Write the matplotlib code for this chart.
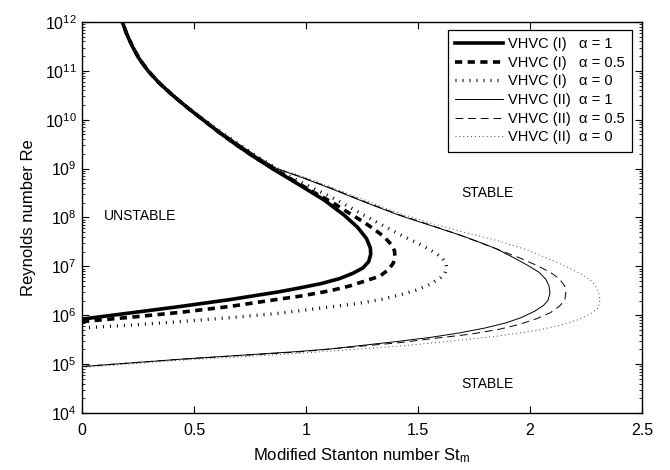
import numpy as np
import matplotlib
matplotlib.use("Agg")
import matplotlib.pyplot as plt
from matplotlib.ticker import LogLocator, NullFormatter, LogFormatterSciNotation

plt.rcParams['font.family'] = ['Liberation Sans', 'DejaVu Sans']
plt.rcParams['mathtext.fontset'] = 'custom'
plt.rcParams['mathtext.rm'] = 'Liberation Sans'
plt.rcParams['mathtext.it'] = 'Liberation Sans:italic'

# --- neutral stability curves: St_m values and matching log10(Re)
# shared upper branch (Re from 1e9 up to 1e12)
st_top = [0.85, 0.765, 0.685, 0.61, 0.54, 0.47, 0.405, 0.345, 0.295, 0.255, 0.225, 0.20, 0.18]
re_top = [9.0, 9.25, 9.5, 9.75, 10.0, 10.25, 10.5, 10.75, 11.0, 11.25, 11.5, 11.75, 12.0]
st_top_thin = [0.87, 0.78, 0.70, 0.62, 0.545, 0.472, 0.406, 0.346, 0.296, 0.255, 0.225, 0.20, 0.18]

# VHVC (I), alpha = 1
st_I_a1 = [0, 0.22, 0.44, 0.66, 0.88, 0.973, 1.07, 1.15, 1.21, 1.255, 1.28, 1.289,
           1.287, 1.27, 1.23, 1.17, 1.08, 0.973] + st_top
re_I_a1 = [5.92, 6.05, 6.18, 6.32, 6.48, 6.56, 6.65, 6.75, 6.86, 6.97, 7.10, 7.25,
           7.38, 7.57, 7.80, 8.05, 8.36, 8.66] + re_top

# VHVC (I), alpha = 0.5
st_I_a05 = [0, 0.22, 0.44, 0.66, 0.88, 0.973, 1.107, 1.196, 1.27, 1.33, 1.37, 1.39, 1.397,
            1.395, 1.38, 1.35, 1.31, 1.26, 1.196, 1.12, 1.04, 0.98, 0.91] + [0.855] + st_top[1:]
re_I_a05 = [5.87, 5.96, 6.06, 6.18, 6.33, 6.39, 6.50, 6.60, 6.71, 6.80, 6.94, 7.07, 7.20,
            7.32, 7.45, 7.60, 7.74, 7.90, 8.08, 8.30, 8.50, 8.66, 8.85] + re_top

# VHVC (I), alpha = 0
st_I_a0 = [0, 0.22, 0.44, 0.66, 0.88, 1.107, 1.23, 1.344, 1.43, 1.49, 1.539, 1.57, 1.60, 1.62,
           1.628, 1.625, 1.61, 1.585, 1.55, 1.50, 1.42, 1.35, 1.27, 1.19, 1.12, 1.04, 0.97,
           0.91] + st_top_thin
re_I_a0 = [5.74, 5.80, 5.87, 5.95, 6.04, 6.17, 6.24, 6.33, 6.43, 6.51, 6.60, 6.68, 6.77, 6.86,
           6.96, 7.06, 7.16, 7.25, 7.35, 7.47, 7.65, 7.82, 8.02, 8.22, 8.40, 8.58, 8.74,
           8.88] + re_top

# VHVC (II), alpha = 1
st_II_a1 = [0, 0.44, 0.97, 1.107, 1.42, 1.56, 1.6875, 1.80, 1.89, 1.96, 2.02, 2.06, 2.08, 2.089,
            2.085, 2.07, 2.04, 1.99, 1.93, 1.85, 1.76, 1.6875, 1.56, 1.42, 1.27, 1.107,
            0.98] + st_top_thin
re_II_a1 = [4.95, 5.10, 5.26, 5.31, 5.47, 5.55, 5.64, 5.74, 5.84, 5.95, 6.08, 6.20, 6.30, 6.45,
            6.60, 6.74, 6.88, 7.02, 7.17, 7.36, 7.52, 7.64, 7.83, 8.04, 8.30, 8.60,
            8.82] + re_top

# VHVC (II), alpha = 0.5
st_II_a05 = [0, 0.44, 0.97, 1.42, 1.56, 1.73, 1.86, 1.95, 2.03, 2.09, 2.13, 2.155, 2.16,
             2.155, 2.13, 2.09, 2.03, 1.95, 1.86, 1.78, 1.6875, 1.56, 1.42, 1.27, 1.107,
             0.98] + st_top_thin
re_II_a05 = [4.95, 5.10, 5.25, 5.44, 5.52, 5.61, 5.71, 5.81, 5.93, 6.05, 6.18, 6.30, 6.45,
             6.60, 6.75, 6.88, 7.02, 7.18, 7.34, 7.48, 7.64, 7.84, 8.05, 8.31, 8.61,
             8.83] + re_top

# VHVC (II), alpha = 0
st_II_a0 = [0, 0.44, 0.97, 1.42, 1.56, 1.6875, 1.85, 2.03, 2.13, 2.21, 2.27, 2.305, 2.3125,
            2.305, 2.28, 2.23, 2.17, 2.08, 1.985, 1.86, 1.6875, 1.56, 1.42, 1.27, 1.107,
            0.98] + st_top_thin
re_II_a0 = [4.93, 5.08, 5.22, 5.37, 5.43, 5.49, 5.57, 5.69, 5.79, 5.90, 6.03, 6.15, 6.31,
            6.50, 6.68, 6.84, 6.98, 7.16, 7.34, 7.52, 7.72, 7.88, 8.08, 8.34, 8.63,
            8.85] + re_top

x_ticks = [0, 0.5, 1, 1.5, 2, 2.5]
x_labels = ['0', '0.5', '1', '1.5', '2', '2.5']
y_ticks = [1e4, 1e5, 1e6, 1e7, 1e8, 1e9, 1e10, 1e11, 1e12]

fig = plt.figure(figsize=(6.7, 4.7), dpi=100)
ax = fig.add_axes([0.1224, 0.1213, 0.8358, 0.8319])

ax.plot(st_I_a1, 10.0**np.array(re_I_a1), color='k', lw=2.6, ls='-',
        label='VHVC (I)   \u03b1 = 1')
ax.plot(st_I_a05, 10.0**np.array(re_I_a05), color='k', lw=2.6, ls=(0, (2.0, 1.5)),
        label='VHVC (I)   \u03b1 = 0.5')
ax.plot(st_I_a0, 10.0**np.array(re_I_a0), color='k', lw=2.4, ls=(0, (0.3, 1.8)),
        label='VHVC (I)   \u03b1 = 0')
ax.plot(st_II_a1, 10.0**np.array(re_II_a1), color='k', lw=0.7, ls='-',
        label='VHVC (II)  \u03b1 = 1')
ax.plot(st_II_a05, 10.0**np.array(re_II_a05), color='k', lw=0.7, ls=(0, (8, 5)),
        label='VHVC (II)  \u03b1 = 0.5')
ax.plot(st_II_a0, 10.0**np.array(re_II_a0), color='#444444', lw=0.7, ls=(0, (1, 3)),
        label='VHVC (II)  \u03b1 = 0')

ax.set_yscale('log')
ax.set_xlim(0, 2.5)
ax.set_ylim(1e4, 1e12)
ax.set_xticks(x_ticks)
ax.set_xticklabels(x_labels)
ax.set_yticks(y_ticks)
ax.yaxis.set_major_formatter(LogFormatterSciNotation())
ax.yaxis.set_minor_locator(LogLocator(base=10, subs=np.arange(2, 10), numticks=20))
ax.yaxis.set_minor_formatter(NullFormatter())

ax.tick_params(which='both', direction='in', top=True, right=True, labelsize=11.5)
ax.tick_params(which='major', length=5, width=0.8)
ax.tick_params(which='minor', length=2.5, width=0.6)
ax.tick_params(axis='x', pad=7)
ax.tick_params(axis='y', pad=4)
for s in ax.spines.values():
    s.set_linewidth(1.0)

ax.set_xlabel('Modified Stanton number St$_\\mathrm{m}$', fontsize=12, labelpad=6)
ax.set_ylabel('Reynolds number Re', fontsize=12, labelpad=6)

ax.text(0.26, 1.05e8, 'UNSTABLE', ha='center', va='center', fontsize=10)
ax.text(1.81, 3.2e8, 'STABLE', ha='center', va='center', fontsize=10)
ax.text(1.81, 4.0e4, 'STABLE', ha='center', va='center', fontsize=10)

leg = ax.legend(loc='upper right', bbox_to_anchor=(0.983, 0.98), borderaxespad=0,
                fontsize=10.5, handlelength=3.3, handletextpad=0.35, labelspacing=0.32,
                borderpad=0.5, fancybox=False, framealpha=1, edgecolor='k')
leg.get_frame().set_linewidth(0.9)

fig.savefig('out.png', dpi=100)
